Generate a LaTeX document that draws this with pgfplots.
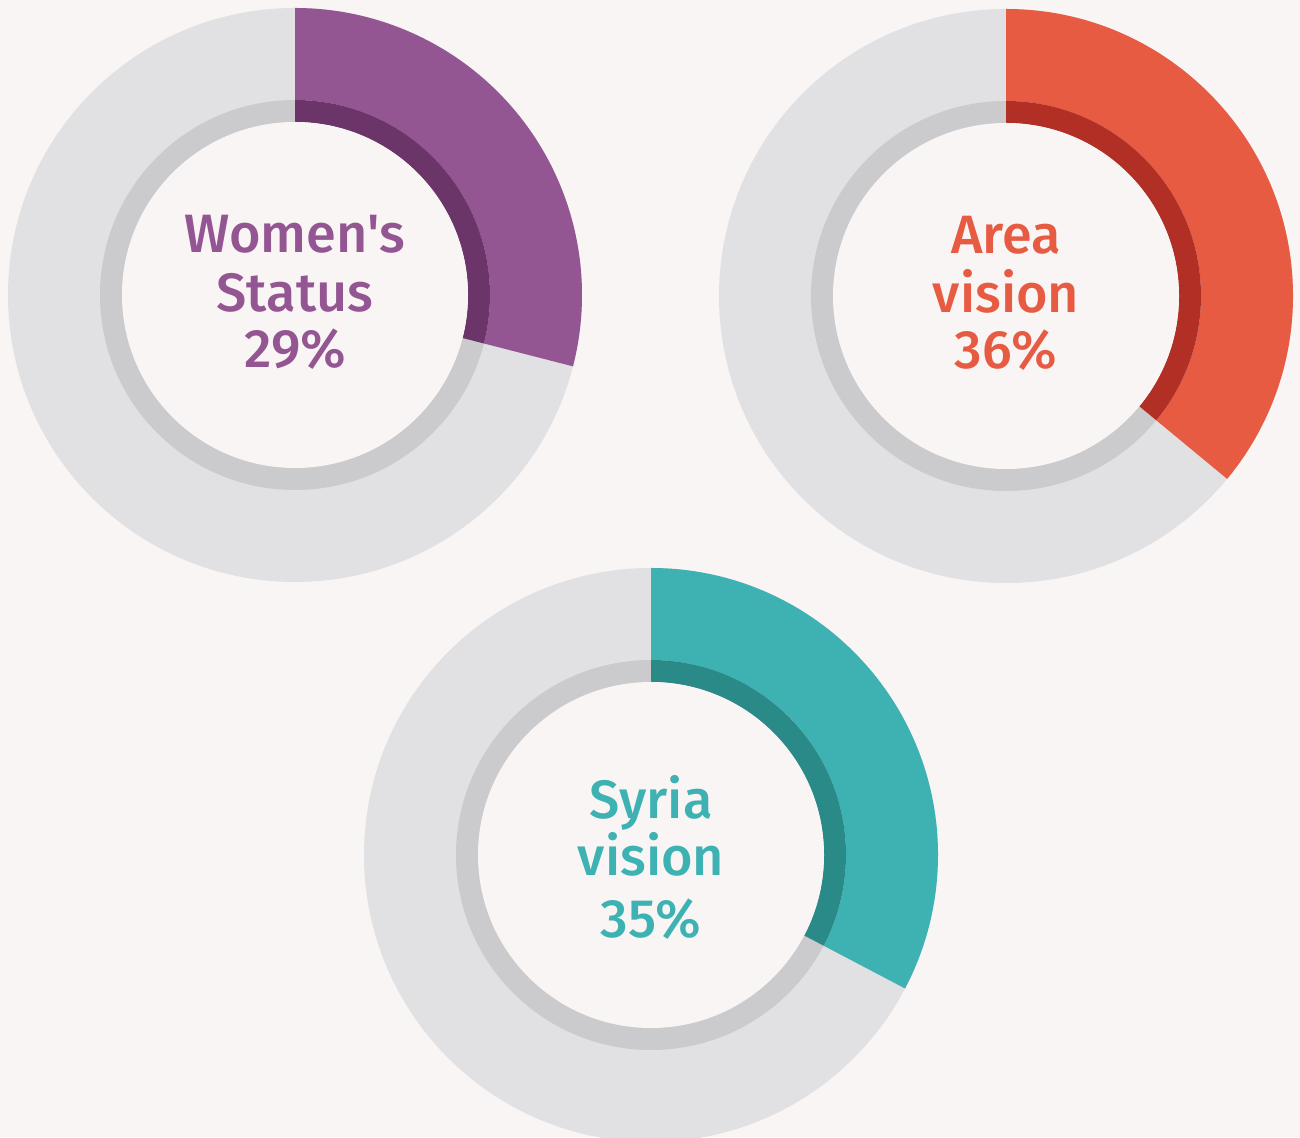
\documentclass[border=0pt]{standalone}
\usepackage{pgfplots}
\pgfplotsset{compat=1.18}
\usepackage{fontspec}
\setmainfont{Fira Sans}[BoldFont={Fira Sans Medium}]
\definecolor{bgc}{HTML}{F9F5F4}
\definecolor{lgrey}{HTML}{E1E1E3}
\definecolor{mgrey}{HTML}{CBCBCD}
\definecolor{purp}{HTML}{945593}
\definecolor{dpurp}{HTML}{6B3569}
\definecolor{redc}{HTML}{E75B43}
\definecolor{dredc}{HTML}{B22F25}
\definecolor{teal}{HTML}{3EB2B2}
\definecolor{dteal}{HTML}{2A8A88}
% #1 cx, #2 cy, #3 percent drawn, #4 colour, #5 dark colour
\newcommand\donut[5]{%
  \fill[lgrey] (axis cs:#1,#2) circle[radius=287pt];
  \fill[mgrey] (axis cs:#1,#2) circle[radius=195pt];
  \fill[#4] (axis cs:#1,#2) ++(90:287pt) arc[start angle=90, delta angle={-#3*3.6}, radius=287pt]
     -- ++({90-#3*3.6}:-92pt) arc[start angle={90-#3*3.6}, delta angle={#3*3.6}, radius=195pt] -- cycle;
  \fill[#5] (axis cs:#1,#2) ++(90:195pt) arc[start angle=90, delta angle={-#3*3.6}, radius=195pt]
     -- ++({90-#3*3.6}:-22pt) arc[start angle={90-#3*3.6}, delta angle={#3*3.6}, radius=173pt] -- cycle;
  \fill[bgc] (axis cs:#1,#2) circle[radius=173pt];
}
\begin{document}
\begin{tikzpicture}
\begin{axis}[x=1pt, y=1pt, xmin=0, xmax=1300, ymin=0, ymax=1137,
  hide axis, clip=true, scale only axis]
\fill[bgc] (axis cs:0,0) rectangle (axis cs:1300,1137);
\donut{295}{842}{29}{purp}{dpurp}
\donut{1006}{841}{36}{redc}{dredc}
\donut{651}{282}{32.7}{teal}{dteal}
\begin{scope}[every node/.style={anchor=base, inner sep=0pt, font=\fontsize{54}{54}\selectfont\bfseries}]
\node[text=purp] at (axis cs:295,884) {Women\textquotesingle s};
\node[text=purp] at (axis cs:295,825) {Status};
\node[text=purp] at (axis cs:295,769) {29\%};
\node[text=redc] at (axis cs:1006,883) {Area};
\node[text=redc] at (axis cs:1006,824) {vision};
\node[text=redc] at (axis cs:1006,768) {36\%};
\node[text=teal] at (axis cs:651,318) {Syria};
\node[text=teal] at (axis cs:651,261) {vision};
\node[text=teal] at (axis cs:651,199) {35\%};
\end{scope}
\end{axis}
\pgfresetboundingbox
\useasboundingbox (current axis.south west) rectangle (current axis.north east);
\end{tikzpicture}
\end{document}
